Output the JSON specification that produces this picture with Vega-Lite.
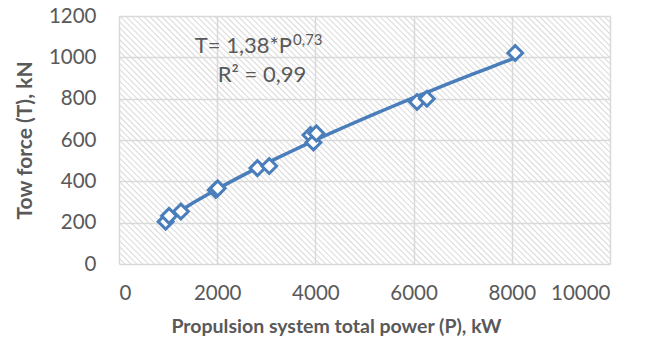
{
  "$schema": "https://vega.github.io/schema/vega-lite/v6.json",
  "width": 491,
  "height": 248,
  "autosize": {"type": "none"},
  "padding": {"left": 119, "top": 16, "right": 47, "bottom": 83},
  "background": "white",
  "config": {
    "view": {
      "stroke": null,
      "fill": {
        "gradient": "linear", "x1": 0, "y1": 1, "x2": 1.199, "y2": 0.396,
        "stops": [
          {"offset":0,"color":"#dadada"},{"offset":0.002,"color":"#fff"},{"offset":0.006,"color":"#fff"},
          {"offset":0.008,"color":"#dadada"},{"offset":0.01,"color":"#fff"},{"offset":0.014,"color":"#fff"},
          {"offset":0.016,"color":"#dadada"},{"offset":0.018,"color":"#fff"},{"offset":0.022,"color":"#fff"},
          {"offset":0.024,"color":"#dadada"},{"offset":0.026,"color":"#fff"},{"offset":0.03,"color":"#fff"},
          {"offset":0.032,"color":"#dadada"},{"offset":0.034,"color":"#fff"},{"offset":0.038,"color":"#fff"},
          {"offset":0.04,"color":"#dadada"},{"offset":0.042,"color":"#fff"},{"offset":0.046,"color":"#fff"},
          {"offset":0.048,"color":"#dadada"},{"offset":0.05,"color":"#fff"},{"offset":0.054,"color":"#fff"},
          {"offset":0.056,"color":"#dadada"},{"offset":0.058,"color":"#fff"},{"offset":0.062,"color":"#fff"},
          {"offset":0.064,"color":"#dadada"},{"offset":0.066,"color":"#fff"},{"offset":0.07,"color":"#fff"},
          {"offset":0.072,"color":"#dadada"},{"offset":0.074,"color":"#fff"},{"offset":0.078,"color":"#fff"},
          {"offset":0.08,"color":"#dadada"},{"offset":0.082,"color":"#fff"},{"offset":0.086,"color":"#fff"},
          {"offset":0.088,"color":"#dadada"},{"offset":0.09,"color":"#fff"},{"offset":0.094,"color":"#fff"},
          {"offset":0.096,"color":"#dadada"},{"offset":0.098,"color":"#fff"},{"offset":0.102,"color":"#fff"},
          {"offset":0.104,"color":"#dadada"},{"offset":0.106,"color":"#fff"},{"offset":0.11,"color":"#fff"},
          {"offset":0.112,"color":"#dadada"},{"offset":0.114,"color":"#fff"},{"offset":0.118,"color":"#fff"},
          {"offset":0.12,"color":"#dadada"},{"offset":0.122,"color":"#fff"},{"offset":0.126,"color":"#fff"},
          {"offset":0.128,"color":"#dadada"},{"offset":0.13,"color":"#fff"},{"offset":0.134,"color":"#fff"},
          {"offset":0.136,"color":"#dadada"},{"offset":0.138,"color":"#fff"},{"offset":0.142,"color":"#fff"},
          {"offset":0.144,"color":"#dadada"},{"offset":0.146,"color":"#fff"},{"offset":0.15,"color":"#fff"},
          {"offset":0.152,"color":"#dadada"},{"offset":0.154,"color":"#fff"},{"offset":0.158,"color":"#fff"},
          {"offset":0.16,"color":"#dadada"},{"offset":0.162,"color":"#fff"},{"offset":0.166,"color":"#fff"},
          {"offset":0.168,"color":"#dadada"},{"offset":0.17,"color":"#fff"},{"offset":0.174,"color":"#fff"},
          {"offset":0.176,"color":"#dadada"},{"offset":0.178,"color":"#fff"},{"offset":0.182,"color":"#fff"},
          {"offset":0.184,"color":"#dadada"},{"offset":0.186,"color":"#fff"},{"offset":0.19,"color":"#fff"},
          {"offset":0.192,"color":"#dadada"},{"offset":0.194,"color":"#fff"},{"offset":0.198,"color":"#fff"},
          {"offset":0.2,"color":"#dadada"},{"offset":0.202,"color":"#fff"},{"offset":0.206,"color":"#fff"},
          {"offset":0.208,"color":"#dadada"},{"offset":0.21,"color":"#fff"},{"offset":0.214,"color":"#fff"},
          {"offset":0.216,"color":"#dadada"},{"offset":0.218,"color":"#fff"},{"offset":0.222,"color":"#fff"},
          {"offset":0.224,"color":"#dadada"},{"offset":0.226,"color":"#fff"},{"offset":0.23,"color":"#fff"},
          {"offset":0.232,"color":"#dadada"},{"offset":0.234,"color":"#fff"},{"offset":0.238,"color":"#fff"},
          {"offset":0.24,"color":"#dadada"},{"offset":0.242,"color":"#fff"},{"offset":0.246,"color":"#fff"},
          {"offset":0.248,"color":"#dadada"},{"offset":0.25,"color":"#fff"},{"offset":0.254,"color":"#fff"},
          {"offset":0.256,"color":"#dadada"},{"offset":0.258,"color":"#fff"},{"offset":0.262,"color":"#fff"},
          {"offset":0.264,"color":"#dadada"},{"offset":0.266,"color":"#fff"},{"offset":0.27,"color":"#fff"},
          {"offset":0.272,"color":"#dadada"},{"offset":0.274,"color":"#fff"},{"offset":0.278,"color":"#fff"},
          {"offset":0.28,"color":"#dadada"},{"offset":0.282,"color":"#fff"},{"offset":0.286,"color":"#fff"},
          {"offset":0.288,"color":"#dadada"},{"offset":0.29,"color":"#fff"},{"offset":0.294,"color":"#fff"},
          {"offset":0.296,"color":"#dadada"},{"offset":0.298,"color":"#fff"},{"offset":0.302,"color":"#fff"},
          {"offset":0.304,"color":"#dadada"},{"offset":0.306,"color":"#fff"},{"offset":0.31,"color":"#fff"},
          {"offset":0.312,"color":"#dadada"},{"offset":0.314,"color":"#fff"},{"offset":0.318,"color":"#fff"},
          {"offset":0.32,"color":"#dadada"},{"offset":0.322,"color":"#fff"},{"offset":0.326,"color":"#fff"},
          {"offset":0.328,"color":"#dadada"},{"offset":0.33,"color":"#fff"},{"offset":0.334,"color":"#fff"},
          {"offset":0.336,"color":"#dadada"},{"offset":0.338,"color":"#fff"},{"offset":0.342,"color":"#fff"},
          {"offset":0.344,"color":"#dadada"},{"offset":0.346,"color":"#fff"},{"offset":0.35,"color":"#fff"},
          {"offset":0.352,"color":"#dadada"},{"offset":0.354,"color":"#fff"},{"offset":0.358,"color":"#fff"},
          {"offset":0.36,"color":"#dadada"},{"offset":0.362,"color":"#fff"},{"offset":0.366,"color":"#fff"},
          {"offset":0.368,"color":"#dadada"},{"offset":0.37,"color":"#fff"},{"offset":0.374,"color":"#fff"},
          {"offset":0.376,"color":"#dadada"},{"offset":0.378,"color":"#fff"},{"offset":0.382,"color":"#fff"},
          {"offset":0.384,"color":"#dadada"},{"offset":0.386,"color":"#fff"},{"offset":0.39,"color":"#fff"},
          {"offset":0.392,"color":"#dadada"},{"offset":0.394,"color":"#fff"},{"offset":0.398,"color":"#fff"},
          {"offset":0.4,"color":"#dadada"},{"offset":0.402,"color":"#fff"},{"offset":0.406,"color":"#fff"},
          {"offset":0.408,"color":"#dadada"},{"offset":0.41,"color":"#fff"},{"offset":0.414,"color":"#fff"},
          {"offset":0.416,"color":"#dadada"},{"offset":0.418,"color":"#fff"},{"offset":0.422,"color":"#fff"},
          {"offset":0.424,"color":"#dadada"},{"offset":0.426,"color":"#fff"},{"offset":0.43,"color":"#fff"},
          {"offset":0.432,"color":"#dadada"},{"offset":0.434,"color":"#fff"},{"offset":0.438,"color":"#fff"},
          {"offset":0.44,"color":"#dadada"},{"offset":0.442,"color":"#fff"},{"offset":0.446,"color":"#fff"},
          {"offset":0.448,"color":"#dadada"},{"offset":0.45,"color":"#fff"},{"offset":0.454,"color":"#fff"},
          {"offset":0.456,"color":"#dadada"},{"offset":0.458,"color":"#fff"},{"offset":0.462,"color":"#fff"},
          {"offset":0.464,"color":"#dadada"},{"offset":0.466,"color":"#fff"},{"offset":0.47,"color":"#fff"},
          {"offset":0.472,"color":"#dadada"},{"offset":0.474,"color":"#fff"},{"offset":0.478,"color":"#fff"},
          {"offset":0.48,"color":"#dadada"},{"offset":0.482,"color":"#fff"},{"offset":0.486,"color":"#fff"},
          {"offset":0.488,"color":"#dadada"},{"offset":0.49,"color":"#fff"},{"offset":0.494,"color":"#fff"},
          {"offset":0.496,"color":"#dadada"},{"offset":0.498,"color":"#fff"},{"offset":0.502,"color":"#fff"},
          {"offset":0.504,"color":"#dadada"},{"offset":0.506,"color":"#fff"},{"offset":0.51,"color":"#fff"},
          {"offset":0.512,"color":"#dadada"},{"offset":0.514,"color":"#fff"},{"offset":0.518,"color":"#fff"},
          {"offset":0.52,"color":"#dadada"},{"offset":0.522,"color":"#fff"},{"offset":0.526,"color":"#fff"},
          {"offset":0.528,"color":"#dadada"},{"offset":0.53,"color":"#fff"},{"offset":0.534,"color":"#fff"},
          {"offset":0.536,"color":"#dadada"},{"offset":0.538,"color":"#fff"},{"offset":0.542,"color":"#fff"},
          {"offset":0.544,"color":"#dadada"},{"offset":0.546,"color":"#fff"},{"offset":0.55,"color":"#fff"},
          {"offset":0.552,"color":"#dadada"},{"offset":0.554,"color":"#fff"},{"offset":0.558,"color":"#fff"},
          {"offset":0.56,"color":"#dadada"},{"offset":0.562,"color":"#fff"},{"offset":0.566,"color":"#fff"},
          {"offset":0.568,"color":"#dadada"},{"offset":0.57,"color":"#fff"},{"offset":0.574,"color":"#fff"},
          {"offset":0.576,"color":"#dadada"},{"offset":0.578,"color":"#fff"},{"offset":0.582,"color":"#fff"},
          {"offset":0.584,"color":"#dadada"},{"offset":0.586,"color":"#fff"},{"offset":0.59,"color":"#fff"},
          {"offset":0.592,"color":"#dadada"},{"offset":0.594,"color":"#fff"},{"offset":0.598,"color":"#fff"},
          {"offset":0.6,"color":"#dadada"},{"offset":0.602,"color":"#fff"},{"offset":0.606,"color":"#fff"},
          {"offset":0.608,"color":"#dadada"},{"offset":0.61,"color":"#fff"},{"offset":0.614,"color":"#fff"},
          {"offset":0.616,"color":"#dadada"},{"offset":0.618,"color":"#fff"},{"offset":0.622,"color":"#fff"},
          {"offset":0.624,"color":"#dadada"},{"offset":0.626,"color":"#fff"},{"offset":0.63,"color":"#fff"},
          {"offset":0.632,"color":"#dadada"},{"offset":0.634,"color":"#fff"},{"offset":0.638,"color":"#fff"},
          {"offset":0.64,"color":"#dadada"},{"offset":0.642,"color":"#fff"},{"offset":0.646,"color":"#fff"},
          {"offset":0.648,"color":"#dadada"},{"offset":0.65,"color":"#fff"},{"offset":0.654,"color":"#fff"},
          {"offset":0.656,"color":"#dadada"},{"offset":0.658,"color":"#fff"},{"offset":0.662,"color":"#fff"},
          {"offset":0.664,"color":"#dadada"},{"offset":0.666,"color":"#fff"},{"offset":0.67,"color":"#fff"},
          {"offset":0.672,"color":"#dadada"},{"offset":0.674,"color":"#fff"},{"offset":0.678,"color":"#fff"},
          {"offset":0.68,"color":"#dadada"},{"offset":0.682,"color":"#fff"},{"offset":0.686,"color":"#fff"},
          {"offset":0.688,"color":"#dadada"},{"offset":0.69,"color":"#fff"},{"offset":0.694,"color":"#fff"},
          {"offset":0.696,"color":"#dadada"},{"offset":0.698,"color":"#fff"},{"offset":0.702,"color":"#fff"},
          {"offset":0.704,"color":"#dadada"},{"offset":0.706,"color":"#fff"},{"offset":0.71,"color":"#fff"},
          {"offset":0.712,"color":"#dadada"},{"offset":0.714,"color":"#fff"},{"offset":0.718,"color":"#fff"},
          {"offset":0.72,"color":"#dadada"},{"offset":0.722,"color":"#fff"},{"offset":0.726,"color":"#fff"},
          {"offset":0.728,"color":"#dadada"},{"offset":0.73,"color":"#fff"},{"offset":0.734,"color":"#fff"},
          {"offset":0.736,"color":"#dadada"},{"offset":0.738,"color":"#fff"},{"offset":0.742,"color":"#fff"},
          {"offset":0.744,"color":"#dadada"},{"offset":0.746,"color":"#fff"},{"offset":0.75,"color":"#fff"},
          {"offset":0.752,"color":"#dadada"},{"offset":0.754,"color":"#fff"},{"offset":0.758,"color":"#fff"},
          {"offset":0.76,"color":"#dadada"},{"offset":0.762,"color":"#fff"},{"offset":0.766,"color":"#fff"},
          {"offset":0.768,"color":"#dadada"},{"offset":0.77,"color":"#fff"},{"offset":0.774,"color":"#fff"},
          {"offset":0.776,"color":"#dadada"},{"offset":0.778,"color":"#fff"},{"offset":0.782,"color":"#fff"},
          {"offset":0.784,"color":"#dadada"},{"offset":0.786,"color":"#fff"},{"offset":0.79,"color":"#fff"},
          {"offset":0.792,"color":"#dadada"},{"offset":0.794,"color":"#fff"},{"offset":0.798,"color":"#fff"},
          {"offset":0.8,"color":"#dadada"},{"offset":0.802,"color":"#fff"},{"offset":0.806,"color":"#fff"},
          {"offset":0.808,"color":"#dadada"},{"offset":0.81,"color":"#fff"},{"offset":0.814,"color":"#fff"},
          {"offset":0.816,"color":"#dadada"},{"offset":0.818,"color":"#fff"},{"offset":0.822,"color":"#fff"},
          {"offset":0.824,"color":"#dadada"},{"offset":0.826,"color":"#fff"},{"offset":0.83,"color":"#fff"},
          {"offset":0.832,"color":"#dadada"},{"offset":0.834,"color":"#fff"},{"offset":0.838,"color":"#fff"},
          {"offset":0.84,"color":"#dadada"},{"offset":0.842,"color":"#fff"},{"offset":0.846,"color":"#fff"},
          {"offset":0.848,"color":"#dadada"},{"offset":0.85,"color":"#fff"},{"offset":0.854,"color":"#fff"},
          {"offset":0.856,"color":"#dadada"},{"offset":0.858,"color":"#fff"},{"offset":0.862,"color":"#fff"},
          {"offset":0.864,"color":"#dadada"},{"offset":0.866,"color":"#fff"},{"offset":0.87,"color":"#fff"},
          {"offset":0.872,"color":"#dadada"},{"offset":0.874,"color":"#fff"},{"offset":0.878,"color":"#fff"},
          {"offset":0.88,"color":"#dadada"},{"offset":0.882,"color":"#fff"},{"offset":0.886,"color":"#fff"},
          {"offset":0.888,"color":"#dadada"},{"offset":0.89,"color":"#fff"},{"offset":0.894,"color":"#fff"},
          {"offset":0.896,"color":"#dadada"},{"offset":0.898,"color":"#fff"},{"offset":0.902,"color":"#fff"},
          {"offset":0.904,"color":"#dadada"},{"offset":0.906,"color":"#fff"},{"offset":0.91,"color":"#fff"},
          {"offset":0.912,"color":"#dadada"},{"offset":0.914,"color":"#fff"},{"offset":0.918,"color":"#fff"},
          {"offset":0.92,"color":"#dadada"},{"offset":0.922,"color":"#fff"},{"offset":0.926,"color":"#fff"},
          {"offset":0.928,"color":"#dadada"},{"offset":0.93,"color":"#fff"},{"offset":0.934,"color":"#fff"},
          {"offset":0.936,"color":"#dadada"},{"offset":0.938,"color":"#fff"},{"offset":0.942,"color":"#fff"},
          {"offset":0.944,"color":"#dadada"},{"offset":0.946,"color":"#fff"},{"offset":0.95,"color":"#fff"},
          {"offset":0.952,"color":"#dadada"},{"offset":0.954,"color":"#fff"},{"offset":0.958,"color":"#fff"},
          {"offset":0.96,"color":"#dadada"},{"offset":0.962,"color":"#fff"},{"offset":0.966,"color":"#fff"},
          {"offset":0.968,"color":"#dadada"},{"offset":0.97,"color":"#fff"},{"offset":0.974,"color":"#fff"},
          {"offset":0.976,"color":"#dadada"},{"offset":0.978,"color":"#fff"},{"offset":0.982,"color":"#fff"},
          {"offset":0.984,"color":"#dadada"},{"offset":0.986,"color":"#fff"},{"offset":0.99,"color":"#fff"},
          {"offset":0.992,"color":"#dadada"},{"offset":0.994,"color":"#fff"},{"offset":0.998,"color":"#fff"},
          {"offset":1,"color":"#dadada"}
        ]
      }
    },
    "font": "Lato"
  },
  "data": {
    "values": [
      {"P": 950, "T": 205},
      {"P": 1020, "T": 233},
      {"P": 1260, "T": 254},
      {"P": 1970, "T": 358},
      {"P": 2010, "T": 366},
      {"P": 2820, "T": 464},
      {"P": 3060, "T": 474},
      {"P": 3900, "T": 624},
      {"P": 3960, "T": 588},
      {"P": 4020, "T": 632},
      {"P": 6070, "T": 784},
      {"P": 6270, "T": 800},
      {"P": 8070, "T": 1021}
    ]
  },
  "layer": [
    {
      "transform": [{"regression": "T", "on": "P", "method": "pow"}],
      "mark": {"type": "line", "color": "#4a7ebb", "strokeWidth": 3.5},
      "encoding": {
        "x": {
          "field": "P", "type": "quantitative",
          "scale": {"domain": [0, 10000], "nice": false},
          "axis": {
            "values": [0, 2000, 4000, 6000, 8000, 10000], "format": "d",
            "grid": true, "gridColor": "#d9d9d9", "gridWidth": 1.5,
            "domain": false, "ticks": false,
            "labelFontSize": 20.5, "labelColor": "#595959", "labelPadding": 19,
            "title": "Propulsion system total power (P), kW",
            "titleFontSize": 19.5, "titleFontWeight": "bold", "titleColor": "#595959",
            "titleX": 217, "titleAlign": "center", "titleY": 62, "titleBaseline": "middle"
          }
        },
        "y": {
          "field": "T", "type": "quantitative",
          "scale": {"domain": [0, 1200], "nice": false},
          "axis": {
            "values": [0, 200, 400, 600, 800, 1000, 1200], "format": "d",
            "grid": true, "gridColor": "#d9d9d9", "gridWidth": 1.5,
            "domain": false, "ticks": false,
            "labelFontSize": 20.5, "labelColor": "#595959", "labelPadding": 23,
            "title": "Tow force (T), kN",
            "titleFontSize": 21, "titleFontWeight": "bold", "titleColor": "#595959",
            "titleX": -94, "titleBaseline": "middle"
          }
        }
      }
    },
    {
      "mark": {"type": "point", "shape": "diamond", "filled": true, "fill": "white", "stroke": "#4a7ebb", "strokeWidth": 3, "size": 220, "opacity": 1},
      "encoding": {
        "x": {"field": "P", "type": "quantitative"},
        "y": {"field": "T", "type": "quantitative"}
      }
    },
    {
      "data": {"values": [{"label": "T= 1,38*P"}]},
      "mark": {"type": "text", "align": "right", "baseline": "alphabetic", "fontSize": 22, "color": "#595959"},
      "encoding": {
        "x": {"datum": 3523},
        "y": {"datum": 1021},
        "text": {"field": "label"}
      }
    },
    {
      "data": {"values": [{"label": "0,73"}]},
      "mark": {"type": "text", "align": "left", "baseline": "alphabetic", "fontSize": 15, "color": "#595959"},
      "encoding": {
        "x": {"datum": 3545},
        "y": {"datum": 1058},
        "text": {"field": "label"}
      }
    },
    {
      "data": {"values": [{"label": "R² = 0,99"}]},
      "mark": {"type": "text", "align": "center", "baseline": "alphabetic", "fontSize": 22, "color": "#595959"},
      "encoding": {
        "x": {"datum": 2912},
        "y": {"datum": 880},
        "text": {"field": "label"}
      }
    }
  ]
}
